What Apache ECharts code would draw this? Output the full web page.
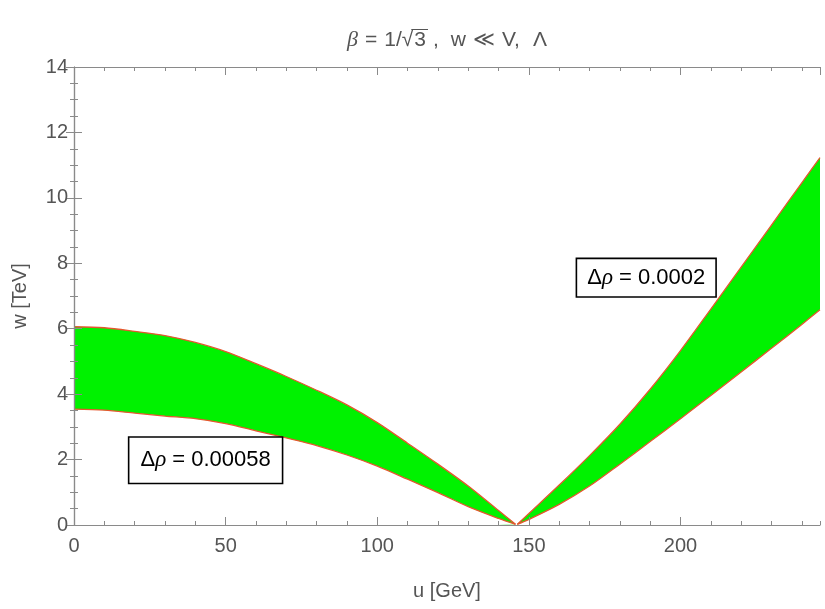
<!DOCTYPE html>
<html>
<head>
<meta charset="utf-8">
<script src="https://cdn.jsdelivr.net/npm/echarts@6/dist/echarts.min.js"></script>
<style>
  html, body { margin: 0; padding: 0; background: #fff; }
  #main { width: 825px; height: 609px; }
</style>
</head>
<body>
<div id="main"></div>
<script>
// left band (u < ~146 GeV)
var uLeft      = [0, 10, 20, 30, 40, 50, 60, 70, 80, 90, 100, 110, 120, 130, 140, 145.6];
var wLeftUpper = [6.06, 6.03, 5.92, 5.79, 5.58, 5.30, 4.93, 4.54, 4.12, 3.67, 3.13, 2.50, 1.86, 1.19, 0.44, 0.02];
var wLeftLower = [3.54, 3.51, 3.42, 3.33, 3.25, 3.10, 2.88, 2.66, 2.43, 2.14, 1.80, 1.40, 0.99, 0.56, 0.20, 0.02];

// right band (u > ~146 GeV)
var uRight      = [146.2, 150, 160, 170, 180, 190, 200, 210, 220, 230, 240, 246];
var wRightUpper = [0.02, 0.35, 1.22, 2.12, 3.08, 4.15, 5.33, 6.60, 7.88, 9.17, 10.46, 11.23];
var wRightLower = [0.02, 0.17, 0.63, 1.19, 1.86, 2.55, 3.25, 3.96, 4.68, 5.40, 6.13, 6.58];

var xTicksMajor = 50, xTicksMinor = 10;
var yTicksMajor = 2;

// annotation boxes: text + anchor (u, w)
var notes = [
  { val: '0.00058', u: 43.4, w: 1.98, padV: 11, padH: 11 },
  { val: '0.0002', u: 188.7, w: 7.56, padV: 7, padH: 10 }
];

var gray = '#8a8a8a';
var labelGray = '#555';
var edgeRed = '#e4572e';
var fillGreen = '#00f200';

function pairs(xs, ys) {
  return xs.map(function (x, i) { return [x, ys[i]]; });
}

// upper edge filled green down to 0, lower edge filled white on top of it
function edge(us, ws, fill) {
  return {
    type: 'line',
    data: pairs(us, ws),
    showSymbol: false,
    silent: true,
    clip: true,
    smooth: 0.3,
    lineStyle: { color: edgeRed, width: 1.3 },
    areaStyle: { color: fill, opacity: 1 }
  };
}

function xAx(pos, major, labels) {
  return {
    type: 'value', position: pos, min: 0, max: 246, z: 10,
    interval: major ? xTicksMajor : xTicksMinor,
    axisLine: { show: major, lineStyle: { color: gray, width: 1.2 } },
    axisTick: { inside: true, length: major ? 8 : 4, lineStyle: { color: gray } },
    axisLabel: { show: labels, showMaxLabel: false, color: labelGray, fontSize: 20,
                 fontFamily: 'Liberation Sans', margin: 11 },
    splitLine: { show: false },
    name: labels ? 'u [GeV]' : '',
    nameLocation: 'middle', nameGap: 56,
    nameTextStyle: { color: labelGray, fontSize: 20, fontFamily: 'Liberation Sans' }
  };
}

function yAx(pos, labels) {
  return {
    type: 'value', position: pos, min: 0, max: 14, interval: yTicksMajor, z: 10,
    axisLine: { show: true, lineStyle: { color: gray, width: 1.2 } },
    axisTick: { inside: true, length: 8, lineStyle: { color: gray } },
    minorTick: { show: true, splitNumber: 4, length: 4, lineStyle: { color: gray } },
    axisLabel: { show: labels, color: labelGray, fontSize: 20,
                 fontFamily: 'Liberation Sans', margin: 6 },
    splitLine: { show: false },
    name: labels ? 'w [TeV]' : '',
    nameLocation: 'middle', nameGap: 44,
    nameTextStyle: { color: labelGray, fontSize: 20, fontFamily: 'Liberation Sans' }
  };
}

var chart = echarts.init(document.getElementById('main'), null, { renderer: 'canvas' });

chart.setOption({
  backgroundColor: '#fff',
  animation: false,
  grid: { left: 74, right: 5, top: 67, bottom: 84, containLabel: false },
  xAxis: [xAx('bottom', true, true), xAx('bottom', false, false), xAx('top', true, false), xAx('top', false, false)],
  yAxis: [yAx('left', true), yAx('right', false)],
  series: [
    edge(uLeft, wLeftUpper, fillGreen), edge(uLeft, wLeftLower, '#fff'),
    edge(uRight, wRightUpper, fillGreen), edge(uRight, wRightLower, '#fff')
  ]
});

// title pieces laid out left to right, sqrt bar drawn over the 3
var sans = '21px "Liberation Sans"';
var titleParts = [
  { t: 'β', font: 'italic 22px "Liberation Serif"', gap: 7 },
  { t: '=', font: sans, gap: 7 },
  { t: '1/√', font: sans, gap: 1 },
  { t: '3', font: sans, gap: 7, bar: true },
  { t: ',', font: sans, gap: 12 },
  { t: 'w', font: sans, gap: 7 },
  { t: '≪', font: sans, gap: 7 },
  { t: 'V,', font: sans, gap: 13 },
  { t: 'Λ', font: sans, gap: 0 }
];
var ctx = document.createElement('canvas').getContext('2d');
var widths = titleParts.map(function (p) { ctx.font = p.font; return ctx.measureText(p.t).width; });
var total = 0;
titleParts.forEach(function (p, i) { total += widths[i] + p.gap; });
var tx = 447 - total / 2, ty = 40;
var g = [];
titleParts.forEach(function (p, i) {
  g.push({
    type: 'text', x: tx, y: ty, z: 10,
    style: { text: p.t, font: p.font, fill: labelGray, align: 'left', verticalAlign: 'middle' }
  });
  if (p.bar) {
    g.push({
      type: 'line', z: 10,
      shape: { x1: tx - 3, y1: ty - 10.5, x2: tx + widths[i] + 2, y2: ty - 10.5 },
      style: { stroke: labelGray, lineWidth: 1 }
    });
  }
  tx += widths[i] + p.gap;
});

notes.forEach(function (n) {
  var p = chart.convertToPixel({ xAxisIndex: 0, yAxisIndex: 0 }, [n.u, n.w]);
  g.push({
    type: 'text', x: p[0], y: p[1], z: 10,
    style: {
      text: 'Δ{r|ρ} = ' + n.val,
      align: 'center', verticalAlign: 'middle',
      fill: '#000', fontSize: 22, fontFamily: 'Liberation Sans',
      backgroundColor: '#fff', borderColor: '#000', borderWidth: 1.6,
      padding: [n.padV, n.padH, n.padV, n.padH],
      rich: { r: { fontStyle: 'italic', fontSize: 23, fontFamily: 'Liberation Serif', fill: '#000' } }
    }
  });
});
chart.setOption({ graphic: g });
</script>
</body>
</html>
